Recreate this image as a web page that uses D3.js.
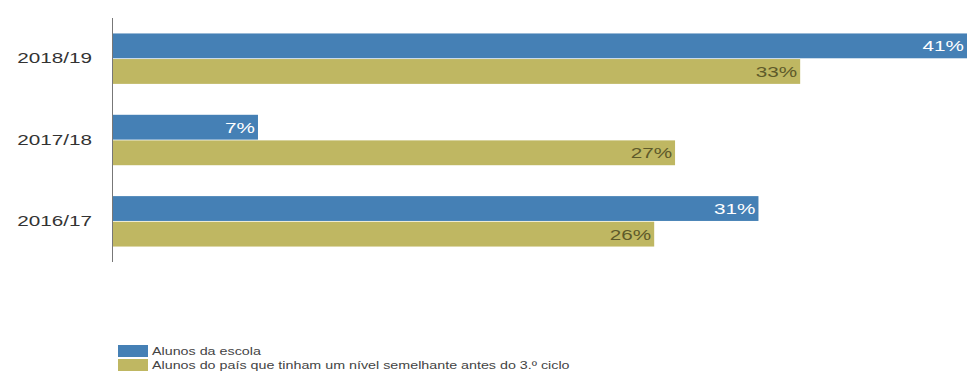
<!DOCTYPE html>
<html><head><meta charset="utf-8">
<script src="https://cdn.jsdelivr.net/npm/d3@7/dist/d3.min.js"></script>
<style>body{margin:0;background:#fff}svg{display:block}</style>
</head><body>
<svg id="c" width="971" height="380"></svg>
<script>
const categories = ["2018/19", "2017/18", "2016/17"];
const seriesNames = ["Alunos da escola", "Alunos do país que tinham um nível semelhante antes do 3.º ciclo"];
const escola = [41, 7, 31];
const pais = [33, 27, 26];
const colors = ["#4580b5", "#bfb762"];
const labelColors = ["#ffffff", "#5e5a2a"];
const FONT = "Liberation Sans, Arial, sans-serif";
const SX = 1.38;

const svg = d3.select("#c");
const x = d3.scaleLinear().domain([0, 41]).range([112, 967]);
const y = d3.scaleBand().domain(categories).range([18, 262]).paddingInner(0.38).paddingOuter(0.19);
const sub = d3.scaleBand().domain([0, 1]).range([0, y.bandwidth()]).paddingInner(0.03);

const series = [escola, pais];
series.forEach((vals, si) => {
  const g = svg.append("g");
  g.selectAll("rect").data(categories).join("rect")
    .attr("x", x(0)).attr("y", (c) => y(c) + sub(si))
    .attr("width", (c, i) => x(vals[i]) - x(0)).attr("height", sub.bandwidth())
    .attr("fill", colors[si]);
  g.selectAll("text").data(categories).join("text")
    .attr("transform", (c, i) => `translate(${x(vals[i]) - 3},${y(c) + sub(si) + sub.bandwidth() / 2}) scale(${SX},1)`)
    .attr("dy", "0.36em").attr("text-anchor", "end")
    .attr("font-family", FONT).attr("font-size", 15)
    .attr("fill", labelColors[si])
    .text((c, i) => vals[i] + "%");
});

const yAxis = d3.axisLeft(y).tickSize(0).tickPadding(0);
const ag = svg.append("g").attr("transform", `translate(${x(0)},0)`).call(yAxis);
ag.select(".domain").attr("stroke", "#777").attr("d", "M0.5,18V262");
ag.selectAll("text").attr("font-family", FONT).attr("font-size", 15).attr("fill", "#333")
  .attr("x", null).attr("transform", `translate(-20,0) scale(${SX},1)`);

const lg = svg.append("g").attr("transform", "translate(118,345)");
seriesNames.forEach((n, i) => {
  lg.append("rect").attr("x", 0).attr("y", i * 14).attr("width", 30).attr("height", 12).attr("fill", colors[i]);
  lg.append("text").attr("transform", `translate(34,${i * 14 + 6}) scale(1.3,1)`).attr("dy", "0.36em")
    .attr("font-family", FONT).attr("font-size", 11).attr("fill", "#444")
    .text(n);
});
</script>
</body></html>
